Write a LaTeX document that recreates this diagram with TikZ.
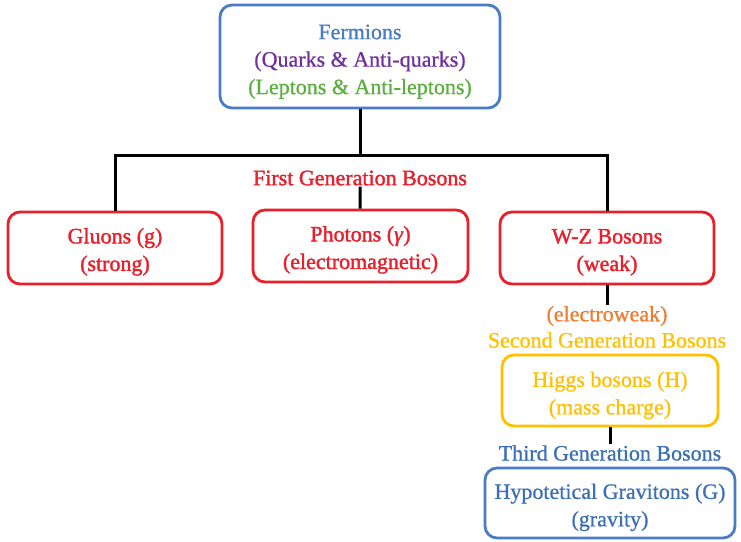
\documentclass[tikz,border=0pt]{standalone}
\usepackage{fontspec}
\setmainfont{Liberation Serif}
\newfontfamily\heavyfont{Liberation Serif}[FakeBold=1.6]
\newfontfamily\midfont{Liberation Serif}[FakeBold=0.8]
\newcommand\lineup[1]{\rule{0pt}{#1}}
\definecolor{fblue}{HTML}{4A7CC4}
\definecolor{fpurple}{HTML}{7030A0}
\definecolor{fgreen}{HTML}{5BAF3E}
\definecolor{fred}{HTML}{E8202C}
\definecolor{forange}{HTML}{ED7D31}
\definecolor{fyellow}{HTML}{FFC000}
\definecolor{tblue}{HTML}{3B6FB8}
\begin{document}
\begin{tikzpicture}[x=1pt,y=-1pt,
  box/.style={draw, line width=2.8pt, rounded corners=12pt, align=center, inner sep=0pt},
  lbl/.style={inner sep=1pt, align=center},
  redtext/.style={font=\heavyfont\fontsize{22}{27.5}\selectfont},
  conn/.style={draw=black, line width=3pt},
  every node/.style={font=\midfont\fontsize{22}{27.5}\selectfont}]
\useasboundingbox[fill=white] (0,0) rectangle (741,541);
\node[box, draw=fblue, minimum width=280pt, minimum height=103pt] (ferm) at (360,56.5)
  {\lineup{25pt}\textcolor{fblue}{Fermions}\\\textcolor{fpurple}{(Quarks \& Anti-quarks)}\\\textcolor{fgreen}{(Leptons \& Anti-leptons)}};
\node[box, redtext, draw=fred, text=fred, minimum width=214pt, minimum height=72pt] (gluon) at (115,248) {\lineup{23pt}Gluons (g)\\(strong)};
\node[box, redtext, draw=fred, text=fred, minimum width=215pt, minimum height=72pt] (photon) at (360.5,246) {\lineup{23pt}Photons (\textit{γ})\\(electromagnetic)};
\node[box, redtext, draw=fred, text=fred, minimum width=214pt, minimum height=72pt] (wz) at (607,248) {\lineup{23pt}W-Z Bosons\\(weak)};
\node[box, draw=fyellow, text=fyellow, minimum width=216pt, minimum height=71pt] (higgs) at (610,390.5) {\lineup{25pt}Higgs bosons (H)\\(mass charge)};
\node[box, draw=fblue, text=tblue, minimum width=250pt, minimum height=70pt] (grav) at (610,503) {\lineup{24pt}Hypotetical Gravitons (G)\\(gravity)};
\node[lbl, redtext, text=fred] (fgb) at (360,178) {First Generation Bosons};
\node[lbl, text=forange] (ew) at (607,316) {(electroweak)};
\node[lbl, text=fyellow] (sgb) at (607,340) {Second Generation Bosons};
\node[lbl, text=tblue] (tgb) at (610,453) {Third Generation Bosons};
\coordinate (j) at (360,155);
\draw[conn] (ferm.south) -- (j);
\draw[conn] (gluon.north) -- (gluon.north |- j) -- (wz.north |- j) -- (wz.north);
\draw[conn] (fgb) -- (photon);
\draw[conn] (wz) -- (ew);
\draw[conn] (higgs) -- (tgb);
\end{tikzpicture}
\end{document}
